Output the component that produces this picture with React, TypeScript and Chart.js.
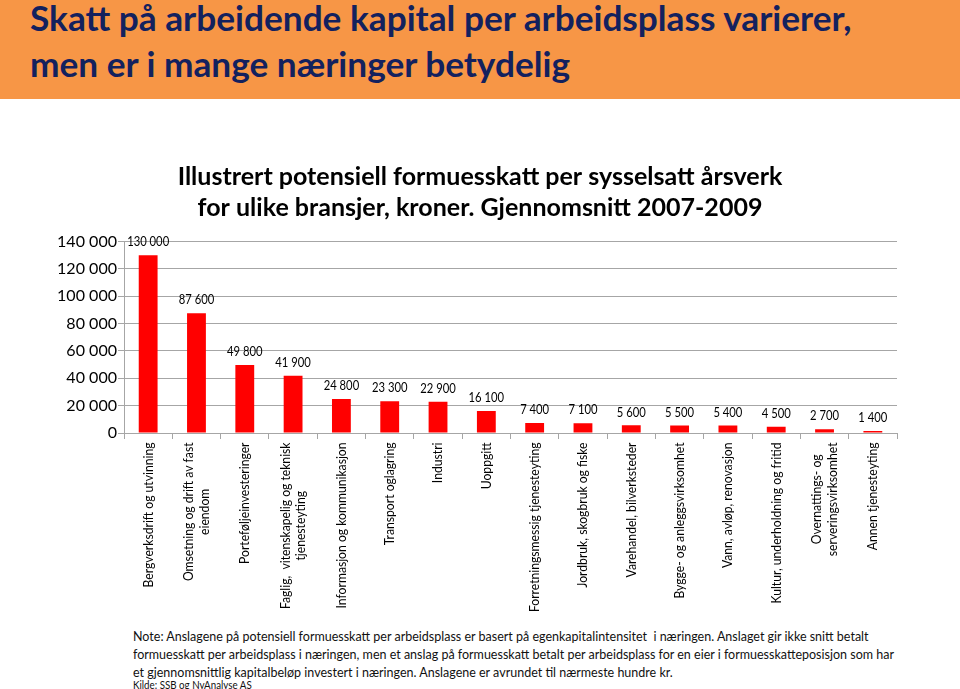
import React, { useEffect, useRef } from 'react';
import { Chart, registerables } from 'chart.js';

Chart.register(...registerables);

const FONT = 'Lato, "Open Sans", sans-serif';

const headerLines = [
  'Skatt på arbeidende kapital per arbeidsplass varierer,',
  'men er i mange næringer betydelig',
];

const titleLines = [
  'Illustrert potensiell formuesskatt per sysselsatt årsverk',
  'for ulike bransjer, kroner. Gjennomsnitt 2007-2009',
];

const categories: string[][] = [
  ['Bergverksdrift og utvinning'],
  ['Omsetning og drift av fast', 'eiendom'],
  ['Porteføljeinvesteringer'],
  ['Faglig,  vitenskapelig og teknisk', 'tjenesteyting'],
  ['Informasjon og kommunikasjon'],
  ['Transport oglagring'],
  ['Industri'],
  ['Uoppgitt'],
  ['Forretningsmessig tjenesteyting'],
  ['Jordbruk, skogbruk og fiske'],
  ['Varehandel, bilverksteder'],
  ['Bygge- og anleggsvirksomhet'],
  ['Vann, avløp, renovasjon'],
  ['Kultur, underholdning og fritid'],
  ['Overnattings- og', 'serveringsvirksomhet'],
  ['Annen tjenesteyting'],
];

const values = [
  130000, 87600, 49800, 41900, 24800, 23300, 22900, 16100,
  7400, 7100, 5600, 5500, 5400, 4500, 2700, 1400,
];

const yMin = 0;
const yMax = 140000;
const yStep = 20000;

const noteLines = [
  'Note: Anslagene på potensiell formuesskatt per arbeidsplass er basert på egenkapitalintensitet  i næringen. Anslaget gir ikke snitt betalt',
  'formuesskatt per arbeidsplass i næringen, men et anslag på formuesskatt betalt per arbeidsplass for en eier i formuesskatteposisjon som har',
  'et gjennomsnittlig kapitalbeløp investert i næringen. Anslagene er avrundet til nærmeste hundre kr.',
];
const sourceLine = 'Kilde: SSB og NyAnalyse AS';

const GRID = '#A6A6A6';

function fmt(n: number): string {
  return String(n).replace(/\B(?=(\d{3})+(?!\d))/g, ' ');
}

let measureCtx: CanvasRenderingContext2D | null = null;
function measure(text: string, font: string): number {
  if (!measureCtx) measureCtx = document.createElement('canvas').getContext('2d');
  measureCtx!.font = font;
  return measureCtx!.measureText(text).width;
}
function fitSize(text: string, weight: string, target: number): number {
  const w = measure(text, `${weight} 20px ${FONT}`);
  return (20 * target) / w;
}
function fitScale(text: string, font: string, target: number): number {
  const w = measure(text, font);
  return w > 0 ? target / w : 1;
}

export default function App() {
  const canvasRef = useRef<HTMLCanvasElement | null>(null);

  const headerSize = 34;
  const headerScale = fitScale(headerLines[0], `bold ${headerSize}px ${FONT}`, 823);
  const noteSize = 14;
  const noteScale = fitScale(noteLines[1], `${noteSize}px ${FONT}`, 762);
  const sourceSize = 11;
  const sourceScale = fitScale(sourceLine, `${sourceSize}px ${FONT}`, 119);

  useEffect(() => {
    document.body.style.margin = '0';
    const canvas = canvasRef.current;
    if (!canvas) return;

    const titleSize = fitSize(titleLines[0], 'bold', 605);
    const yTickSize = fitSize('140 000', 'normal', 60);
    const dlSize = 13;
    const dlScale = fitScale('130 000', `${dlSize}px ${FONT}`, 42);
    const catSize = 13.5;
    const catScale = fitScale('Bergverksdrift og utvinning', `${catSize}px ${FONT}`, 145);

    const labelPlugin = {
      id: 'customLabels',
      afterDatasetsDraw(chart: any) {
        const c = chart.ctx as CanvasRenderingContext2D;
        const meta = chart.getDatasetMeta(0);
        const data = chart.data.datasets[0].data as number[];
        c.save();
        c.font = `${dlSize}px ${FONT}`;
        c.fillStyle = '#000';
        c.textAlign = 'center';
        c.textBaseline = 'middle';
        meta.data.forEach((bar: any, i: number) => {
          c.save();
          c.translate(bar.x, bar.y - 13);
          c.scale(dlScale, 1);
          c.fillText(fmt(data[i]), 0, 0);
          c.restore();
        });
        c.restore();
      },
      afterDraw(chart: any) {
        const c = chart.ctx as CanvasRenderingContext2D;
        const xs = chart.scales.x;
        const top = chart.chartArea.bottom + 9.5;
        const labels = chart.data.labels as string[][];
        c.save();
        c.font = `${catSize}px ${FONT}`;
        c.fillStyle = '#000';
        c.textAlign = 'center';
        c.textBaseline = 'middle';
        labels.forEach((lines, i) => {
          const x = xs.getPixelForValue(i);
          const W = Math.max(...lines.map((l) => c.measureText(l).width));
          c.save();
          c.translate(x, top);
          c.rotate(-Math.PI / 2);
          c.scale(catScale, 1);
          lines.forEach((ln, j) => {
            c.fillText(ln, -W / 2, (j - (lines.length - 1) / 2) * 15.5);
          });
          c.restore();
        });
        c.restore();
      },
    };

    const chart = new Chart(canvas, {
      type: 'bar',
      data: {
        labels: categories,
        datasets: [
          {
            data: values,
            backgroundColor: '#FF0000',
            borderWidth: 0,
            barPercentage: 0.39,
            categoryPercentage: 1,
          },
        ],
      },
      options: {
        animation: false,
        responsive: false,
        layout: { padding: { left: 0, right: 0, top: 0, bottom: 181 } },
        plugins: {
          legend: { display: false },
          tooltip: { enabled: false },
          title: {
            display: true,
            text: titleLines,
            color: '#000',
            font: { family: FONT, size: titleSize, weight: 'bold', lineHeight: 31 / titleSize },
            padding: { top: 61.5, bottom: 18 },
          },
        },
        scales: {
          x: {
            grid: {
              display: true,
              drawOnChartArea: false,
              drawTicks: true,
              tickLength: 6,
              color: GRID,
              offset: true,
            },
            border: { color: GRID },
            ticks: { display: false },
          },
          y: {
            min: yMin,
            max: yMax,
            ticks: {
              stepSize: yStep,
              padding: 1,
              color: '#000',
              font: { family: FONT, size: yTickSize },
              callback: (v: any) => fmt(Number(v)),
            },
            grid: { color: GRID, tickLength: 6 },
            border: { color: GRID },
            afterFit: (s: any) => {
              s.width = 124;
            },
          },
          yRight: {
            position: 'right',
            display: true,
            grid: { display: false, drawTicks: false },
            border: { display: false },
            ticks: { display: false },
            afterFit: (s: any) => {
              s.width = 63;
            },
          },
        },
      } as any,
      plugins: [labelPlugin],
    });
    return () => chart.destroy();
  }, []);

  const lineStyle = (top: number, size: number, lh: number, sx: number): React.CSSProperties => ({
    position: 'absolute',
    left: 133,
    top,
    fontFamily: FONT,
    fontSize: size,
    lineHeight: `${lh}px`,
    whiteSpace: 'pre',
    color: '#111',
    transform: `scaleX(${sx})`,
    transformOrigin: 'left top',
  });

  return (
    <div style={{ position: 'relative', width: 960, height: 689, overflow: 'hidden', background: '#fff' }}>
      <div style={{ position: 'absolute', left: 0, top: 0, width: 960, height: 99, background: '#F79646' }}>
        {headerLines.map((t, i) => (
          <div
            key={i}
            style={{
              position: 'absolute',
              left: 30,
              top: i === 0 ? 1 : 47,
              fontFamily: FONT,
              fontWeight: 700,
              fontSize: headerSize,
              lineHeight: `${headerSize}px`,
              whiteSpace: 'pre',
              color: '#13215E',
              transform: `scaleX(${headerScale})`,
              transformOrigin: 'left top',
            }}
          >
            {t}
          </div>
        ))}
      </div>
      <canvas
        ref={canvasRef}
        width={960}
        height={520}
        style={{ position: 'absolute', left: 0, top: 100, width: 960, height: 520 }}
      />
      {noteLines.map((t, i) => (
        <div key={i} style={lineStyle(627 + i * 18, noteSize, 18, noteScale)}>
          {t}
        </div>
      ))}
      <div style={lineStyle(679, sourceSize, 12, sourceScale)}>{sourceLine}</div>
    </div>
  );
}
